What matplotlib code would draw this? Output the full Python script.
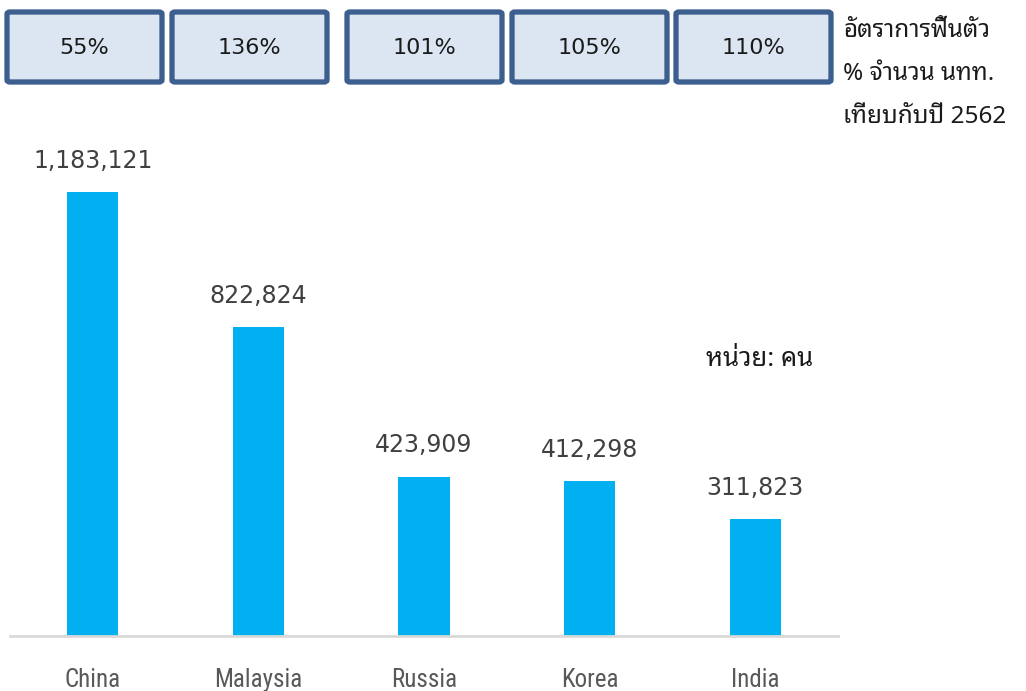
"""
Inbound tourist arrivals by market, with recovery rate vs. 2019 (B.E. 2562)
"""

import matplotlib.pyplot as plt
from matplotlib.patches import FancyBboxPatch

# Data
countries = ["China", "Malaysia", "Russia", "Korea", "India"]
arrivals = [1183121, 822824, 423909, 412298, 311823]
recovery_pct = [55, 136, 101, 105, 110]

side_note = ["อัตราการฟื้นตัว", "% จำนวน นทท.", "เทียบกับปี 2562"]
unit_note = "หน่วย: คน"

BAR_COLOR = "#00b0f0"
BOX_FILL = "#dce6f2"
BOX_EDGE = "#3c5f8f"

thai_family = ["Noto Sans Thai Looped", "Loma", "DejaVu Sans"]
narrow_family = ["Liberation Sans Narrow", "Roboto Condensed", "Liberation Sans"]
number_family = ["DejaVu Sans"]

fig = plt.figure(figsize=(10.26, 6.91), dpi=100)
W, H = 1026, 691

# Bar axes: x 10..838 px, baseline at y=636 px, top at y=100 px
ax = fig.add_axes([10 / W, (H - 636) / H, 828 / W, 536 / H])
x = range(len(countries))
ax.bar(x, arrivals, width=0.31, color=BAR_COLOR, zorder=2)
ax.set_xlim(-0.5, len(countries) - 0.5)
ax.set_ylim(0, max(arrivals) * 536 / 444)

for s in ["top", "right", "left"]:
    ax.spines[s].set_visible(False)
ax.spines["bottom"].set_color("#d9d9d9")
ax.spines["bottom"].set_linewidth(2)
ax.set_yticks([])
ax.set_xticks(list(x))
ax.set_xticklabels(countries, family=narrow_family, fontsize=18, color="#595959")
ax.tick_params(axis="x", length=0, pad=23)

for i, v in enumerate(arrivals):
    ax.annotate(f"{v:,}", (i, v), xytext=(0, 14), textcoords="offset points",
                ha="center", va="bottom", fontsize=17, color="#404040",
                family=number_family)

# Recovery-rate boxes along the top
box_left = [7, 172, 347, 512, 676]
for left, pct in zip(box_left, recovery_pct):
    box = FancyBboxPatch((left / W, (H - 82) / H), 155 / W, 70 / H,
                         boxstyle="round,pad=0,rounding_size=0.003",
                         transform=fig.transFigure, facecolor=BOX_FILL,
                         edgecolor=BOX_EDGE, linewidth=3.8)
    fig.patches.append(box)
    fig.text((left + 77.5) / W, (H - 48) / H, f"{pct}%", ha="center",
             va="center", fontsize=16, color="#1a1a1a", family=number_family)

for k, line in enumerate(side_note):
    fig.text(843 / W, (H - 31 - 43 * k) / H, line, family=thai_family,
             fontsize=17.5, color="#1a1a1a", ha="left", va="center")

fig.text(706 / W, (H - 360) / H, unit_note, family=thai_family,
         fontsize=18.5, color="#1a1a1a", ha="left", va="center")

fig.savefig("out.png", dpi=100)
